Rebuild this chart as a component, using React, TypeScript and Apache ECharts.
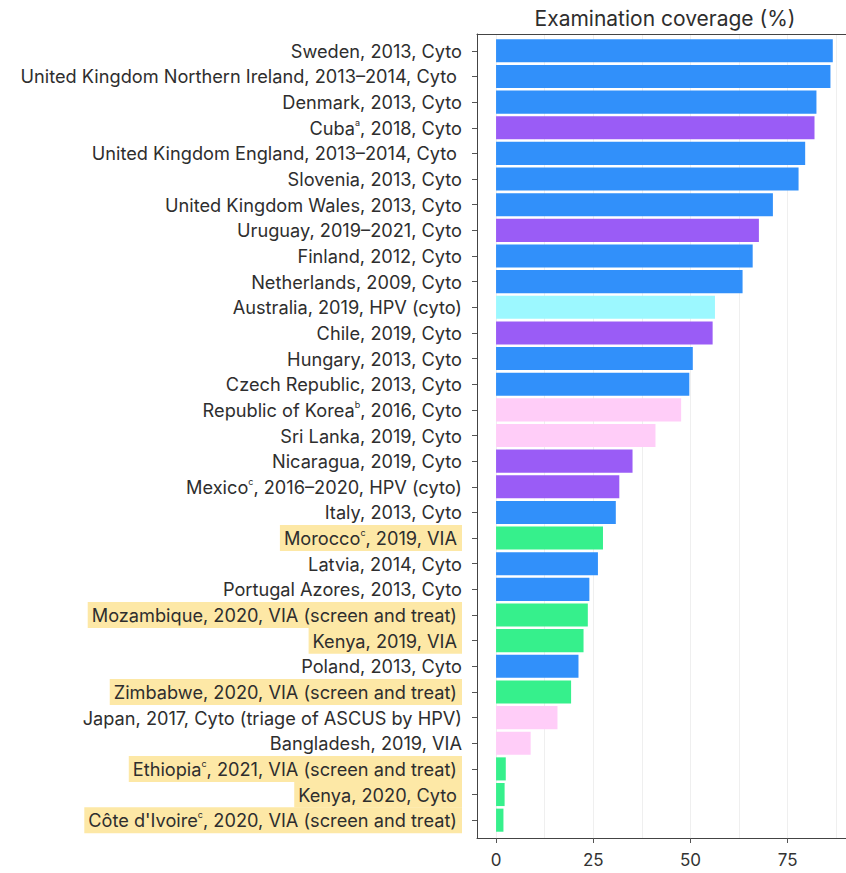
import React, { useEffect, useRef } from "react";
import * as echarts from "echarts";

const countries = [
  "Sweden", "United Kingdom Northern Ireland", "Denmark", "Cuba", "United Kingdom England",
  "Slovenia", "United Kingdom Wales", "Uruguay", "Finland", "Netherlands",
  "Australia", "Chile", "Hungary", "Czech Republic", "Republic of Korea",
  "Sri Lanka", "Nicaragua", "Mexico", "Italy", "Morocco",
  "Latvia", "Portugal Azores", "Mozambique", "Kenya", "Poland",
  "Zimbabwe", "Japan", "Bangladesh", "Ethiopia", "Kenya", "Côte d'Ivoire",
];
const notes = [
  "", "", "", "a", "",
  "", "", "", "", "",
  "", "", "", "", "b",
  "", "", "c", "", "c",
  "", "", "", "", "",
  "", "", "", "c", "", "c",
];
const years = [
  "2013", "2013–2014", "2013", "2018", "2013–2014",
  "2013", "2013", "2019–2021", "2012", "2009",
  "2019", "2019", "2013", "2013", "2016",
  "2019", "2019", "2016–2020", "2013", "2019",
  "2014", "2013", "2020", "2019", "2013",
  "2020", "2017", "2019", "2021", "2020", "2020",
];
const methods = [
  "Cyto", "Cyto ", "Cyto", "Cyto", "Cyto ",
  "Cyto", "Cyto", "Cyto", "Cyto", "Cyto",
  "HPV (cyto)", "Cyto", "Cyto", "Cyto", "Cyto",
  "Cyto", "Cyto", "HPV (cyto)", "Cyto", "VIA",
  "Cyto", "Cyto", "VIA (screen and treat)", "VIA", "Cyto",
  "VIA (screen and treat)", "Cyto (triage of ASCUS by HPV)", "VIA", "VIA (screen and treat)", "Cyto", "VIA (screen and treat)",
];
const coverage = [
  86.6, 86.0, 82.4, 81.9, 79.5,
  77.8, 71.2, 67.6, 66.0, 63.4,
  56.3, 55.7, 50.6, 49.7, 47.6,
  41.0, 35.1, 31.7, 30.8, 27.5,
  26.2, 24.0, 23.6, 22.5, 21.2,
  19.3, 15.8, 8.9, 2.5, 2.2, 1.9,
];
const groups = [
  "blue", "blue", "blue", "purple", "blue",
  "blue", "blue", "purple", "blue", "blue",
  "cyan", "purple", "blue", "blue", "pink",
  "pink", "purple", "purple", "blue", "green",
  "blue", "blue", "green", "green", "blue",
  "green", "pink", "pink", "green", "green", "green",
];
const highlighted = [
  false, false, false, false, false,
  false, false, false, false, false,
  false, false, false, false, false,
  false, false, false, false, true,
  false, false, true, true, false,
  true, false, false, true, true, true,
];
const tickValues = [0, 25, 50, 75];
const gridValues = [0, 12.5, 25, 37.5, 50, 62.5, 75, 87.5];
const title = "Examination coverage (%)";

const groupColors: Record<string, string> = {
  blue: "#3190fa",
  purple: "#9a5cf6",
  cyan: "#9cf8ff",
  pink: "#ffcdf8",
  green: "#36f08c",
};

const FONT = "Inter";

export default function App() {
  const ref = useRef<HTMLDivElement>(null);
  useEffect(() => {
    if (!ref.current) return;
    const chart = echarts.init(ref.current, undefined, { renderer: "svg" });
    const keys = countries.map((c, i) => `${c}${notes[i] ? "{sup|" + notes[i] + "}" : ""}, ${years[i]}, ${methods[i]}`);
    const catData = keys.map((k, i) =>
      highlighted[i]
        ? { value: k, textStyle: { backgroundColor: "#fde8a6", padding: [3, 5, 3, 4] } }
        : { value: k }
    );
    const XMIN = -4.9;
    const XMAX = 90;
    chart.setOption({
      animation: false,
      backgroundColor: "#ffffff",
      graphic: [
        {
          type: "text",
          x: 665,
          y: 18,
          style: {
            text: title,
            textAlign: "center",
            textVerticalAlign: "middle",
            align: "center",
            verticalAlign: "middle",
            fontSize: 21,
            fontFamily: FONT,
            fill: "#2e2e2e",
          },
        },
      ],
      grid: [
        { left: 477, right: 0, top: 34, bottom: 35 },
        { left: 477, right: 0, top: 38, bottom: 40 },
      ],
      xAxis: [
        {
          gridIndex: 0,
          type: "value",
          position: "bottom",
          min: XMIN,
          max: XMAX,
          axisLine: { show: true, onZero: false, lineStyle: { color: "#444444", width: 1 } },
          axisTick: { show: true, customValues: tickValues, length: 5, lineStyle: { color: "#555555" } },
          axisLabel: { show: true, customValues: tickValues, fontSize: 17, fontFamily: FONT, color: "#333333", margin: 13 },
          splitLine: { show: false },
        },
        {
          gridIndex: 0,
          type: "value",
          position: "top",
          min: XMIN,
          max: XMAX,
          axisLine: { show: true, onZero: false, lineStyle: { color: "#444444", width: 1 } },
          axisTick: { show: false, customValues: gridValues },
          axisLabel: { show: false, customValues: gridValues },
          splitLine: { show: true, lineStyle: { color: "#efefef", width: 1 } },
        },
        {
          gridIndex: 1,
          type: "value",
          min: XMIN,
          max: XMAX,
          show: false,
          splitLine: { show: false },
        },
      ],
      yAxis: [
        {
          gridIndex: 0,
          type: "value",
          min: 0,
          max: 1,
          position: "left",
          axisLine: { show: true, onZero: false, lineStyle: { color: "#444444", width: 1 } },
          axisTick: { show: false },
          axisLabel: { show: false },
          splitLine: { show: false },
        },
        {
          gridIndex: 1,
          type: "category",
          inverse: true,
          position: "left",
          data: catData,
          axisLine: { show: false, onZero: false },
          axisTick: { show: true, alignWithLabel: true, length: 5, lineStyle: { color: "#555555" } },
          axisLabel: {
            fontSize: 18.2,
            fontFamily: FONT,
            color: "#2e2e2e",
            margin: 15,
            lineHeight: 20,
            interval: 0,
            rich: {
              sup: { fontSize: 9, fontFamily: FONT, color: "#2e2e2e", verticalAlign: "top", lineHeight: 9 },
            },
          },
        },
      ],
      series: [
        {
          type: "bar",
          xAxisIndex: 2,
          yAxisIndex: 1,
          barWidth: "90%",
          data: coverage.map((v, i) => ({ value: v, itemStyle: { color: groupColors[groups[i]] } })),
        },
      ],
    });
    return () => chart.dispose();
  }, []);
  return <div ref={ref} style={{ position: "fixed", left: 0, top: 0, width: 846, height: 873 }} />;
}
